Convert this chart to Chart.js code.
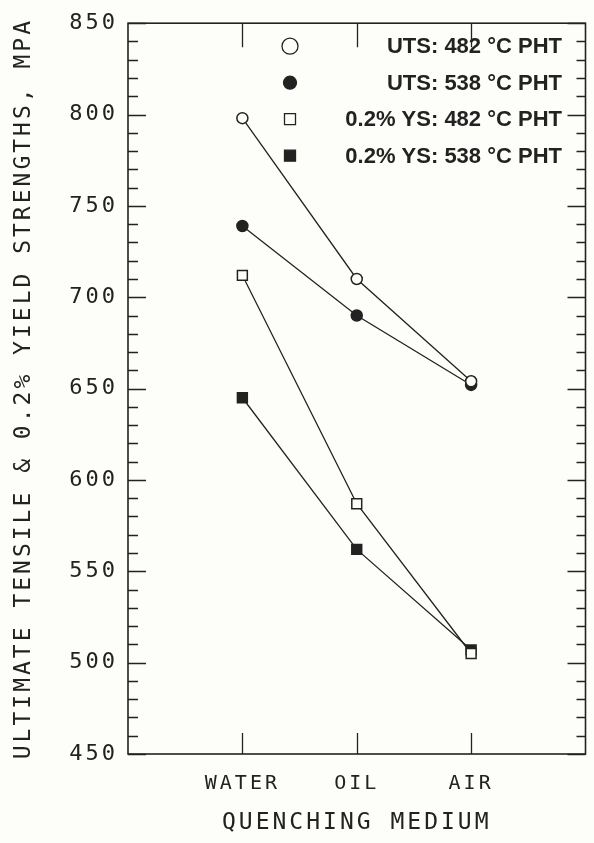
<!DOCTYPE html>
<html>
<head>
<meta charset="utf-8">
<script src="https://cdn.jsdelivr.net/npm/chart.js@4.4.1/dist/chart.umd.min.js"></script>
<style>
  html, body { margin: 0; padding: 0; background: #fdfdf9; }
  #wrap { width: 594px; height: 843px; }
</style>
</head>
<body>
<div id="wrap"><canvas id="c" width="594" height="843"></canvas></div>
<script>
// quenching media on the x axis
const categories = ['WATER', 'OIL', 'AIR'];
const uts482 = [798, 710, 654];
const uts538 = [739, 690, 652];
const ys482 = [712, 587, 505];
const ys538 = [645, 562, 507];
const seriesLabels = ['UTS: 482 °C PHT', 'UTS: 538 °C PHT', '0.2% YS: 482 °C PHT', '0.2% YS: 538 °C PHT'];
const yTicks = [450, 500, 550, 600, 650, 700, 750, 800, 850];

const ink = '#222';
const paper = '#fdfdf9';
const plotFont = "'DejaVu Sans Mono', monospace";

function pts(values) {
    return values.map((v, i) => ({ x: i + 1, y: v }));
}

// frame, inside ticks and the legend box drawn on top
const frame = {
    id: 'frame',
    beforeDraw(chart) {
        const ctx = chart.ctx;
        ctx.fillStyle = paper;
        ctx.fillRect(0, 0, chart.width, chart.height);
        ctx.letterSpacing = '3px';
    },
    afterDraw(chart) {
        const { ctx, chartArea: a, scales: { x, y } } = chart;
        ctx.save();
        ctx.letterSpacing = '0px';
        ctx.strokeStyle = ink;
        ctx.lineWidth = 1.6;
        ctx.strokeRect(a.left, a.top, a.right - a.left, a.bottom - a.top);

        ctx.lineWidth = 1.3;
        ctx.beginPath();
        for (let v = y.min; v <= y.max; v += 10) {
            const py = Math.round(y.getPixelForValue(v)) + 0.5;
            const major = v % 50 === 0;
            ctx.moveTo(a.left, py); ctx.lineTo(a.left + (major ? 18 : 10), py);
            ctx.moveTo(a.right, py); ctx.lineTo(a.right - (major ? 18 : 9), py);
        }
        x.ticks.forEach(t => {
            const px = Math.round(x.getPixelForValue(t.value)) + 0.5;
            ctx.moveTo(px, a.top); ctx.lineTo(px, a.top + 24);
            ctx.moveTo(px, a.bottom); ctx.lineTo(px, a.bottom - 21);
        });
        ctx.stroke();

        // legend
        ctx.font = "bold 22px 'Liberation Sans', Arial, sans-serif";
        ctx.textAlign = 'right';
        ctx.textBaseline = 'middle';
        chart.data.datasets.forEach((ds, i) => {
            const ly = a.top + 23 + i * 36.5;
            const sx = 290;
            const open = ds.pointBackgroundColor === paper;
            ctx.beginPath();
            if (ds.pointStyle === 'circle') {
                ctx.arc(sx, ly, open ? 8 : 6.5, 0, Math.PI * 2);
            } else {
                ctx.rect(sx - 5.5, ly - 5.5, 11, 11);
            }
            ctx.lineWidth = 1.3;
            ctx.fillStyle = open ? paper : ink;
            ctx.fill();
            ctx.stroke();
            ctx.fillStyle = ink;
            ctx.fillText(ds.label, 562, ly + 1);
        });
        ctx.restore();
    }
};

function series(label, values, style, open) {
    return {
        label: label,
        data: pts(values),
        borderColor: ink,
        borderWidth: 1.3,
        pointStyle: style,
        pointRadius: style === 'circle' ? 5.5 : 7,
        pointBorderWidth: 1.5,
        pointBorderColor: ink,
        pointBackgroundColor: open ? paper : ink,
        tension: 0
    };
}

const ctx = document.getElementById('c').getContext('2d');

const chart = new Chart(ctx, {
    type: 'line',
    data: {
        datasets: [
            series(seriesLabels[0], uts482, 'circle', true),
            series(seriesLabels[1], uts538, 'circle', false),
            series(seriesLabels[2], ys482, 'rect', true),
            series(seriesLabels[3], ys538, 'rect', false)
        ]
    },
    options: {
        responsive: false,
        animation: false,
        events: [],
        layout: { padding: { left: 0, right: 8, top: 20, bottom: 0 } },
        plugins: {
            legend: { display: false },
            tooltip: { enabled: false }
        },
        scales: {
            x: {
                type: 'linear',
                min: 0,
                max: 4,
                grid: { display: false, drawTicks: false },
                border: { display: false },
                afterBuildTicks: s => { s.ticks = categories.map((c, i) => ({ value: i + 1 })); },
                afterFit: s => { s.height = 89; },
                ticks: {
                    padding: 18,
                    color: ink,
                    font: { family: plotFont, size: 20 },
                    callback: v => categories[v - 1]
                },
                title: {
                    display: true,
                    text: 'QUENCHING MEDIUM',
                    color: ink,
                    font: { family: plotFont, size: 23 },
                    padding: { top: 0, bottom: 6 }
                }
            },
            y: {
                min: 450,
                max: 850,
                grid: { display: false, drawTicks: false },
                border: { display: false },
                afterBuildTicks: s => { s.ticks = yTicks.map(v => ({ value: v })); },
                afterFit: s => { s.width = 128; },
                ticks: {
                    padding: 10,
                    color: ink,
                    font: { family: plotFont, size: 22 }
                },
                title: {
                    display: true,
                    text: 'ULTIMATE TENSILE & 0.2% YIELD STRENGTHS, MPA',
                    color: ink,
                    font: { family: plotFont, size: 23 },
                    padding: { top: 10, bottom: 0 }
                }
            }
        }
    },
    plugins: [frame]
});
</script>
</body>
</html>
